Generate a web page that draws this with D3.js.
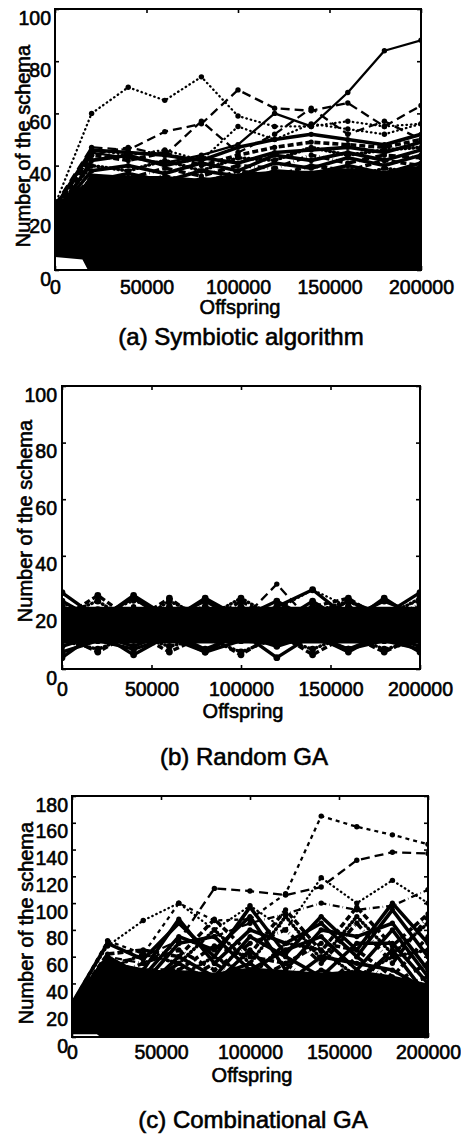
<!DOCTYPE html>
<html><head><meta charset="utf-8">
<script src="https://cdn.jsdelivr.net/npm/d3@7"></script>
<style>
html,body{margin:0;padding:0;background:#fff;}
svg text{font-family:"Liberation Sans",Arial,Helvetica,sans-serif;fill:#000;stroke:#000;stroke-width:0.6px;}
</style></head><body>
<svg id="chart" width="461" height="1136"></svg>
<script>
// ---------- shared axis data ----------
const offspring = [0,20000,40000,60000,80000,100000,120000,140000,160000,180000,200000];
const xTickValues = [0,50000,100000,150000,200000];
const yTicks100 = [0,20,40,60,80,100];
const yTicks180 = [0,20,40,60,80,100,120,140,160,180];
const xTitle = "Offspring";
const yTitle = "Number of the schema";
const captions = ["(a) Symbiotic algorithm","(b) Random GA","(c) Combinational GA"];

// ---------- (a) Symbiotic algorithm ----------
const symCoreX   = [0,15000,18000,20000,40000,60000,80000,100000,120000,140000,160000,180000,200000];
const symCoreTop = [25,32,35,37,36,36,35,37,38,38,39,38,40];
const symCoreLow = [5,4,0,0,0,0,0,0,0,0,0,0,0];
const symBand = [
  [24,46,45,44,42,47,50,52,50,48,52],
  [22,44,42,45,40,44,47,49,48,47,50],
  [20,42,44,40,43,41,45,46,47,45,49],
  [23,40,38,42,38,43,42,47,44,46,47],
  [21,38,40,37,41,38,44,42,45,42,46],
  [18,36,35,39,36,40,39,44,41,44,43],
  [24,34,37,34,38,36,41,39,43,40,44],
  [19,33,32,36,33,38,36,40,38,42,40],
  [22,31,34,31,35,33,38,37,40,37,41],
  [17,30,29,33,30,35,33,36,35,39,37],
  [20,28,31,29,32,30,35,33,37,34,38],
  [16,27,28,27,29,31,30,34,32,36,34],
  [15,26,30,28,27,29,32,31,34,33,35],
  [18,29,27,31,28,33,31,35,33,35,36]
];
const symDotted  = [25,60,70,65,74,59,55,55,57,55,56];
const symSolid   = [24,45,43,41,44,48,60,55,68,84,88];
const symDashed  = [25,47,46,53,56,69,62,61,64,55,63];
const symDashed2 = [23,44,47,44,57,45,52,62,52,57,50];
const symDotted2 = [24,46,44,46,42,55,50,56,54,52,56];

// ---------- (b) Random GA ----------
const randCoreX   = offspring;
const randCoreTop = [22,22,22,22,22,22,22,22,22,22,22];
const randCoreLow = [9,9,9,9,9,9,9,9,9,9,9];
const randBand = [
  [27,18,25,17,25,18,24,17,24,19,27],
  [18,26,17,25,16,24,17,22,25,17,22],
  [24,17,26,18,24,17,22,28,18,24,19],
  [19,24,16,24,18,25,18,20,24,18,25],
  [15,21,14,22,15,22,16,24,16,25,17],
  [22,16,21,15,22,16,21,17,22,16,23],
  [4,13,5,12,6,13,4,12,6,13,6],
  [12,6,13,6,12,5,13,5,12,6,12],
  [8,12,8,13,7,12,8,12,7,12,8],
  [10,7,12,8,11,6,11,7,12,7,10],
  [6,10,7,11,6,10,9,11,7,10,7]
];
const randDashed = [20,15,22,16,21,17,30,16,21,15,20];
const randDotted = [23,19,24,20,22,19,21,28,22,20,24];

// ---------- (c) Combinational GA ----------
const combCoreX   = [0,14000,16000,20000,40000,60000,80000,100000,120000,140000,160000,180000,200000];
const combCoreTop = [24,52,56,58,50,50,48,52,50,48,50,46,40];
const combCoreLow = [2,2,0,0,0,0,0,0,0,0,0,0,0];
const combBand = [
  [25,70,58,85,60,97,62,90,65,100,70],
  [24,62,65,60,88,62,95,64,97,68,92],
  [23,55,50,88,55,80,70,85,60,95,60],
  [22,50,62,55,80,55,90,58,90,62,85],
  [25,60,45,75,65,90,50,80,75,85,50],
  [20,45,55,65,50,70,80,55,85,55,90],
  [24,58,40,70,75,50,65,75,50,80,45],
  [21,40,50,50,68,60,55,70,65,45,75],
  [23,52,35,60,45,75,60,45,70,70,40],
  [19,35,45,45,60,45,70,65,45,60,65],
  [22,48,38,55,40,65,40,60,55,50,35],
  [18,38,30,40,55,40,55,35,60,40,55],
  [20,42,42,35,45,55,35,50,40,65,30],
  [17,30,35,48,35,50,48,40,50,35,45]
];
const combShortDash = [25,72,62,100,87,88,107,165,157,151,144];
const combLongDash  = [24,55,60,72,111,109,106,112,132,138,137];
const combDotted    = [25,68,87,100,80,98,80,119,100,117,100];
const combDashDot   = [24,60,55,70,75,85,92,100,95,98,110];

// ---------- drawing ----------
const svg = d3.select("#chart");
const DASH = {solid:null, dotted:"0.5,4", dashed:"9,5", short:"4,4", dashdot:"7,3,0.5,3"};
const bandDashes = [null,"6,3",null,"0.5,3.5",null,"7,3,0.5,3"];

const panels = [
  {id:"a", left:55, right:421, top:9, bottom:270, ymax:100, yTicks:yTicks100,
   coreX:symCoreX, coreTop:symCoreTop, coreLow:symCoreLow, band:symBand, bandW:3.6, bandR:2.6,
   extra:[[symDotted2,"dotted"],[symDashed2,"dashed"],[symDashed,"dashed"],[symSolid,"solid"],[symDotted,"dotted"]],
   yLabelRight:51, xLabelY:294, xTitleY:314, yTitleX:30, yTitleY:146, capY:345},
  {id:"b", left:62, right:420, top:386, bottom:669, ymax:100, yTicks:yTicks100,
   coreX:randCoreX, coreTop:randCoreTop, coreLow:randCoreLow, band:randBand, bandW:3.4, bandR:3.4,
   extra:[[randDotted,"dotted"],[randDashed,"dashed"]],
   yLabelRight:57, xLabelY:696, xTitleY:718, yTitleX:32, yTitleY:521, capY:765},
  {id:"c", left:72, right:428, top:796, bottom:1037, ymax:180, yTicks:yTicks180,
   coreX:combCoreX, coreTop:combCoreTop, coreLow:combCoreLow, band:combBand, bandW:3.6, bandR:2.6,
   extra:[[combDashDot,"dashdot"],[combDotted,"dotted"],[combLongDash,"dashed"],[combShortDash,"short"]],
   yLabelRight:68, xLabelY:1059, xTitleY:1082, yTitleX:33, yTitleY:923, capY:1128}
];

panels.forEach((p,pi)=>{
  const g = svg.append("g");
  const x = d3.scaleLinear().domain([0,200000]).range([p.left,p.right]);
  const y = d3.scaleLinear().domain([0,p.ymax]).range([p.bottom,p.top]);
  const clipId = "clip"+p.id;
  svg.append("clipPath").attr("id",clipId).append("rect")
     .attr("x",p.left).attr("y",p.top-2).attr("width",p.right-p.left).attr("height",p.bottom-p.top+2);
  const plot = g.append("g").attr("clip-path",`url(#${clipId})`);

  // dense core of overlapping curves
  const area = d3.area()
    .x((d,i)=>x(p.coreX[i])).y0((d,i)=>y(p.coreLow[i])).y1(d=>y(d));
  plot.append("path").datum(p.coreTop).attr("d",area).attr("fill","#000");

  const line = d3.line().x((d,i)=>x(offspring[i])).y(d=>y(d));
  function drawSeries(vals, dash, w, r){
    plot.append("path").datum(vals).attr("d",line)
      .attr("fill","none").attr("stroke","#000").attr("stroke-width",w)
      .attr("stroke-linecap", dash==="0.5,4"||dash==="0.5,3.5" ? "round" : "butt")
      .attr("stroke-linejoin","round")
      .attr("stroke-dasharray",dash);
    plot.selectAll(null).data(vals).enter().append("circle")
      .attr("cx",(d,i)=>x(offspring[i])).attr("cy",d=>y(d)).attr("r",r).attr("fill","#000");
  }
  p.band.forEach((vals,k)=>drawSeries(vals, bandDashes[k%bandDashes.length], p.bandW, p.bandR));
  p.extra.forEach(([vals,style])=>drawSeries(vals, DASH[style], 2.3, 2.7));

  // frame
  g.append("rect").attr("x",p.left).attr("y",p.top).attr("width",p.right-p.left).attr("height",p.bottom-p.top)
    .attr("fill","none").attr("stroke","#000").attr("stroke-width",2);

  // axes (inward ticks)
  const fs = "19.5px";
  const xb = g.append("g").attr("transform",`translate(0,${p.bottom})`)
    .call(d3.axisBottom(x).tickValues(xTickValues).tickSizeInner(-4).tickSizeOuter(0).tickFormat(d3.format("d")));
  xb.select(".domain").remove();
  xb.selectAll(".tick line").attr("stroke","#000").attr("stroke-width",1.6);
  xb.selectAll(".tick text").attr("y",p.xLabelY-p.bottom).attr("dy",0).style("font-size",fs).attr("font-family",null);

  const xt = g.append("g").attr("transform",`translate(0,${p.top})`)
    .call(d3.axisTop(x).tickValues(xTickValues).tickSizeInner(-4).tickSizeOuter(0).tickFormat(""));
  xt.select(".domain").remove();
  xt.selectAll(".tick line").attr("stroke","#000").attr("stroke-width",1.6);

  const yl = g.append("g").attr("transform",`translate(${p.left},0)`)
    .call(d3.axisLeft(y).tickValues(p.yTicks).tickSizeInner(-4).tickSizeOuter(0).tickFormat(d3.format("d")));
  yl.select(".domain").remove();
  yl.selectAll(".tick line").attr("stroke","#000").attr("stroke-width",1.6);
  yl.selectAll(".tick text").attr("x",p.yLabelRight-p.left).attr("dy",0).attr("y",15)
    .style("font-size",fs).attr("font-family",null);

  const yr = g.append("g").attr("transform",`translate(${p.right},0)`)
    .call(d3.axisRight(y).tickValues(p.yTicks).tickSizeInner(-4).tickSizeOuter(0).tickFormat(""));
  yr.select(".domain").remove();
  yr.selectAll(".tick line").attr("stroke","#000").attr("stroke-width",1.6);

  // titles
  const cx = (p.left+p.right)/2;
  g.append("text").attr("x",cx+2).attr("y",p.xTitleY).attr("text-anchor","middle")
    .style("font-size","20px").text(xTitle);
  g.append("text").attr("transform",`translate(${p.yTitleX},${p.yTitleY}) rotate(-90)`)
    .attr("text-anchor","middle").style("font-size","20px").text(yTitle);
  g.append("text").attr("x",cx+3).attr("y",p.capY).attr("text-anchor","middle")
    .style("font-size","24px").text(captions[pi]);
});
</script>
</body></html>
